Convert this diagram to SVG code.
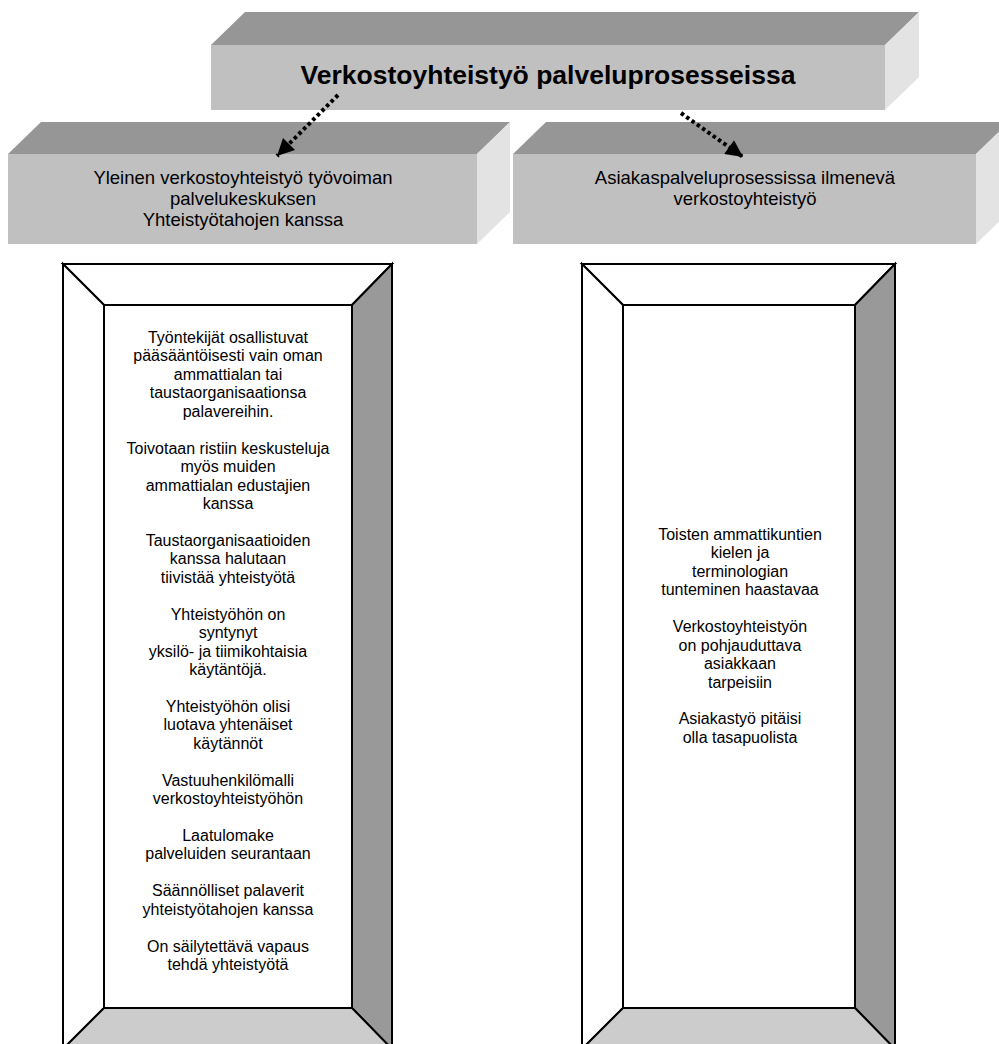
<svg xmlns="http://www.w3.org/2000/svg" width="999" height="1044" viewBox="0 0 999 1044">
  <style>
    .top { fill: #969696; }
    .front { fill: #c0c0c0; }
    .side { fill: #e3e3e3; }
    .frame polygon, .frame rect { stroke: #000; stroke-width: 2; stroke-linejoin: miter; }
    .w { fill: #ffffff; }
    .dark { fill: #999999; }
    .light { fill: #cccccc; }
    text { font-family: "Liberation Sans", Arial, sans-serif; fill: #000; text-anchor: middle; }
    .title { font-size: 26.5px; font-weight: bold; }
    .label { font-size: 18.5px; }
    .body { font-size: 16px; }
    .link { stroke: #000; stroke-width: 4; stroke-dasharray: 3.5 3; fill: none; }
  </style>
  <defs>
    <marker id="head" viewBox="0 0 10 10" refX="10" refY="5" markerUnits="userSpaceOnUse" markerWidth="20" markerHeight="17" orient="auto">
      <path d="M0,0 L10,5 L0,10 z" fill="#000"/>
    </marker>
  </defs>

  <!-- heading block -->
  <g id="heading">
    <polygon class="top" points="211,45 245,12 919,12 885,45"/>
    <polygon class="side" points="885,45 919,12 919,77 885,110"/>
    <rect class="front" x="211" y="45" width="674" height="65"/>
    <text class="title" x="548" y="84">Verkostoyhteistyö palveluprosesseissa</text>
  </g>

  <!-- general networking block -->
  <g id="general">
    <polygon class="top" points="8,154 41,122 510,122 477,154"/>
    <polygon class="side" points="477,154 510,122 510,212 477,244"/>
    <rect class="front" x="8" y="154" width="469" height="90"/>
    <text class="label" x="243" y="184">Yleinen verkostoyhteistyö työvoiman</text>
    <text class="label" x="243" y="205">palvelukeskuksen</text>
    <text class="label" x="243" y="226">Yhteistyötahojen kanssa</text>
  </g>

  <!-- customer process block -->
  <g id="customer">
    <polygon class="top" points="513,154 546,122 1009,122 976,154"/>
    <polygon class="side" points="976,154 1009,122 1009,212 976,244"/>
    <rect class="front" x="513" y="154" width="463" height="90"/>
    <text class="label" x="745" y="184">Asiakaspalveluprosessissa ilmenevä</text>
    <text class="label" x="745" y="205">verkostoyhteistyö</text>
  </g>

  <!-- left bevelled frame -->
  <g id="general-notes" class="frame">
    <polygon class="w" points="63,264 392,264 352,305 104,305"/>
    <polygon class="w" points="63,264 104,305 104,1008 63,1049"/>
    <polygon class="dark" points="392,264 392,1049 352,1008 352,305"/>
    <polygon class="light" points="104,1008 352,1008 392,1049 63,1049"/>
    <rect class="w" x="104" y="305" width="248" height="703"/>
    <g class="body">
      <text x="228" y="343">Työntekijät osallistuvat</text>
      <text x="228" y="361.4">pääsääntöisesti vain oman</text>
      <text x="228" y="379.9">ammattialan tai</text>
      <text x="228" y="398.3">taustaorganisaationsa</text>
      <text x="228" y="416.8">palavereihin.</text>
      <text x="228" y="453.6">Toivotaan ristiin keskusteluja</text>
      <text x="228" y="472.1">myös muiden</text>
      <text x="228" y="490.5">ammattialan edustajien</text>
      <text x="228" y="509">kanssa</text>
      <text x="228" y="545.8">Taustaorganisaatioiden</text>
      <text x="228" y="564.3">kanssa halutaan</text>
      <text x="228" y="582.7">tiivistää yhteistyötä</text>
      <text x="228" y="619.6">Yhteistyöhön on</text>
      <text x="228" y="638">syntynyt</text>
      <text x="228" y="656.5">yksilö- ja tiimikohtaisia</text>
      <text x="228" y="674.9">käytäntöjä.</text>
      <text x="228" y="711.8">Yhteistyöhön olisi</text>
      <text x="228" y="730.2">luotava yhtenäiset</text>
      <text x="228" y="748.7">käytännöt</text>
      <text x="228" y="785.6">Vastuuhenkilömalli</text>
      <text x="228" y="804">verkostoyhteistyöhön</text>
      <text x="228" y="840.9">Laatulomake</text>
      <text x="228" y="859.3">palveluiden seurantaan</text>
      <text x="228" y="896.2">Säännölliset palaverit</text>
      <text x="228" y="914.6">yhteistyötahojen kanssa</text>
      <text x="228" y="951.5">On säilytettävä vapaus</text>
      <text x="228" y="969.9">tehdä yhteistyötä</text>
    </g>
  </g>

  <!-- right bevelled frame -->
  <g id="customer-notes" class="frame">
    <polygon class="w" points="582,264 895,264 855,305 623,305"/>
    <polygon class="w" points="582,264 623,305 623,1008 582,1049"/>
    <polygon class="dark" points="895,264 895,1049 855,1008 855,305"/>
    <polygon class="light" points="623,1008 855,1008 895,1049 582,1049"/>
    <rect class="w" x="623" y="305" width="232" height="703"/>
    <g class="body">
      <text x="740" y="540">Toisten ammattikuntien</text>
      <text x="740" y="558.4">kielen ja</text>
      <text x="740" y="576.9">terminologian</text>
      <text x="740" y="595.3">tunteminen haastavaa</text>
      <text x="740" y="632.2">Verkostoyhteistyön</text>
      <text x="740" y="650.6">on pohjauduttava</text>
      <text x="740" y="669.1">asiakkaan</text>
      <text x="740" y="687.5">tarpeisiin</text>
      <text x="740" y="724.4">Asiakastyö pitäisi</text>
      <text x="740" y="742.8">olla tasapuolista</text>
    </g>
  </g>

  <!-- connectors -->
  <g id="connectors">
    <line class="link" x1="338" y1="95" x2="277" y2="156" marker-end="url(#head)"/>
    <line class="link" x1="681" y1="113" x2="743" y2="157" marker-end="url(#head)"/>
  </g>
</svg>
